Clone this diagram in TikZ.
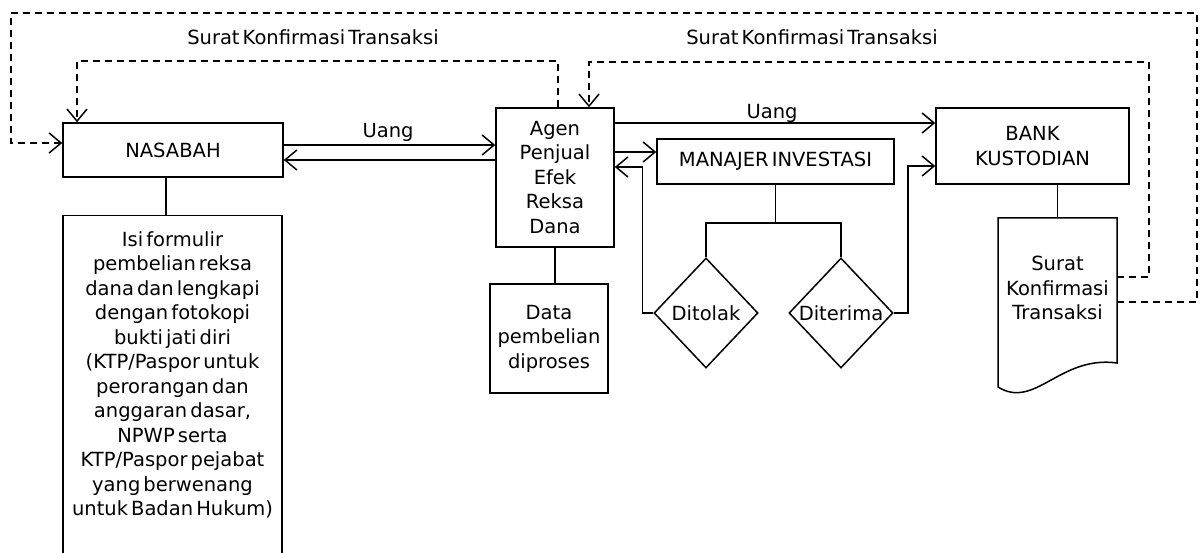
\documentclass[tikz,border=0pt]{standalone}
\usepackage{fontspec}
\setmainfont{DejaVu Sans}[WordSpace=0.5]
\usetikzlibrary{shapes.geometric,arrows.meta}
\begin{document}
\begin{tikzpicture}[x=1pt,y=1pt,
  every node/.style={font=\fontsize{19.5}{24.5}\selectfont, align=center, inner sep=0pt},
  box/.style={draw, line width=1.5pt, rectangle},
  dia/.style={draw, line width=1.5pt, diamond, aspect=1, minimum width=104, minimum height=110},
  conn/.style={line width=1.5pt},
  arr/.style={conn, -{Straight Barb[length=12pt,width=20pt]}},
  dconn/.style={conn, dash pattern=on 7pt off 5pt},
  darr/.style={dconn, -{Straight Barb[length=12pt,width=20pt]}}
]
\useasboundingbox (0,0) rectangle (1203,-553);

% boxes
\node[box, minimum width=220, minimum height=54] (nas) at (173,-150) {NASABAH};
\node[box, minimum width=118, minimum height=139] (agen) at (555,-177.5) {Agen\\Penjual\\Efek\\Reksa\\Dana};
\node[box, minimum width=237, minimum height=45] (mi) at (775.5,-161.5) {MANAJER INVESTASI};
\node[box, minimum width=193, minimum height=76] (bank) at (1032.5,-146) {BANK\\KUSTODIAN};
\node[box, minimum width=118, minimum height=109] (data) at (549,-338.5) {Data\\pembelian\\diproses};
\node[box, minimum width=219, minimum height=360, anchor=north] (form) at (172.5,-215) {};
\node (formtext) at (172.5,-375) {Isi formulir\\pembelian reksa\\dana dan lengkapi\\dengan fotokopi\\bukti jati diri\\(KTP/Paspor untuk\\perorangan dan\\anggaran dasar,\\NPWP serta\\KTP/Paspor pejabat\\yang berwenang\\untuk Badan Hukum)};
\node[dia] (tolak) at (706,-313) {Ditolak};
\node[dia] (terima) at (841,-313) {Diterima};

% document shape
\draw[conn] (998,-218) -- (1117,-218) -- (1117,-363)
  .. controls (1060,-355) and (1035,-410) .. (998,-387) -- cycle;
\node (doc) at (1057.5,-288) {Surat\\Konfirmasi\\Transaksi};
\coordinate (doctop) at (1057.5,-218);
\coordinate (docA) at (1117,-277);
\coordinate (docB) at (1117,-302);

% labels
\node (u1) at (388,-132) {Uang};
\node (u2) at (772,-113) {Uang};
\node (s1) at (313,-37) {Surat Konfirmasi Transaksi};
\node (s2) at (812,-37) {Surat Konfirmasi Transaksi};

% solid connectors
\draw[arr] ([yshift=5]nas.east) -- ([yshift=32.5]agen.west);
\draw[arr] ([yshift=17.5]agen.west) -- ([yshift=-10]nas.east);
\draw[conn] ([xshift=-7]nas.south) -- ([xshift=-6.5]form.north);
\draw[conn] (agen.south) -- (agen.south |- data.north);
\draw[arr] ([yshift=54.5]agen.east) -- ([yshift=23]bank.west);
\draw[arr] ([yshift=25.5]agen.east) -- ([yshift=9.5]mi.west);
\draw[arr] (tolak.west) -- ++(-11,0) |- ([yshift=10.5]agen.east);
\draw[arr] (terima.east) -- ++(14,0) |- ([yshift=-20]bank.west);
\coordinate (j) at (775.5,-223);
\draw[conn] (mi.south) -- (j);
\draw[conn] (tolak.north) |- (j) -| (terima.north);
\draw[conn] (bank.south -| doctop) -- (doctop);

% dashed connectors
\draw[darr] (docB) -- ++(80,0) -- ++(0,289) -- ++(-1186,0) -- ++(0,-130) -- ([yshift=7]nas.west);
\draw[darr] ([xshift=3]agen.north) -- ++(0,46) -| ([xshift=-96]nas.north);
\draw[darr] (docA) -- ++(32,0) -- ++(0,215) -| ([xshift=34]agen.north);
\end{tikzpicture}
\end{document}
